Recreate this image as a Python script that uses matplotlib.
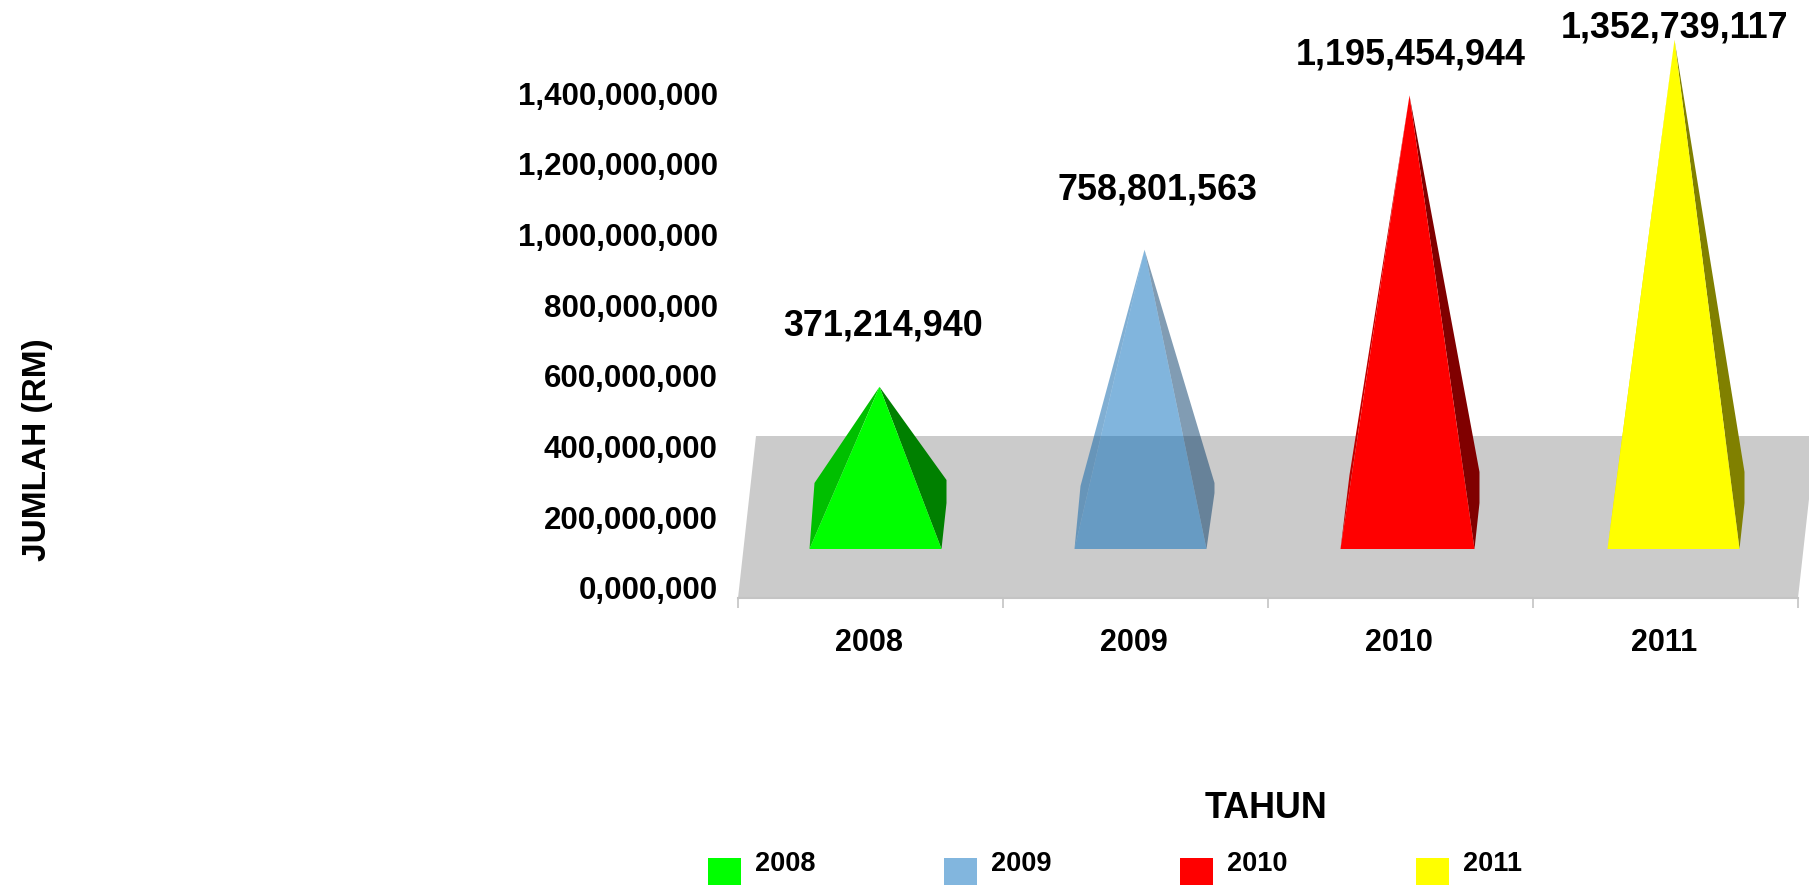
import matplotlib
matplotlib.use("Agg")
import matplotlib.pyplot as plt
from matplotlib.patches import Polygon, Rectangle
from matplotlib.ticker import FuncFormatter

# ---- data ----
years = ["2008", "2009", "2010", "2011"]
values = [371214940, 758801563, 1195454944, 1352739117]
y_ticks = [0, 200000000, 400000000, 600000000, 800000000, 1000000000, 1200000000, 1400000000]
x_title = "TAHUN"
y_title = "JUMLAH (RM)"

# ---- style ----
plt.rcParams["font.family"] = ["Liberation Sans", "DejaVu Sans"]
W, H = 1809, 885
AX_L, AX_R, AX_BOTTOM, ZERO_PX = 738, 1798, 598, 588
PX_PER_VALUE = 70.7 / 200000000
PX_PER_CAT = (AX_R - AX_L) / 4

front = ["#00FF00", "#056DBD", "#FF0000", "#FFFF00"]
left_c = ["#00BF00", "#0560A8", "#BF0000", "#DDDD00"]
right_c = ["#008000", "#053A68", "#800000", "#808000"]
alphas = [1, 0.5, 1, 1]
legend_c = ["#00FF00", "#82B6DE", "#FF0000", "#FFFF00"]
# per-pyramid outline offsets in pixels from the category centre
base_l = [-61, -61, -60, -58]
base_r = [71, 71, 74, 74]
mid_l = [-56, -55, -51, -47]
mid_r = [76, 79, 79, 79]
mid_top = [480, 483, 472, 472]
mid_low = [503, 493, 503, 503]
label_dx = [4, 13, 1, 0]
label_gap = [61, 60, 40, 12]

fig = plt.figure(figsize=(W / 100, H / 100), dpi=100, facecolor="white")
ax = fig.add_axes([AX_L / W, 1 - AX_BOTTOM / H, (AX_R - AX_L) / W, AX_BOTTOM / H])
ax.set_xlim(-0.5, 3.5)
ax.set_ylim(-(AX_BOTTOM - ZERO_PX) / PX_PER_VALUE, ZERO_PX / PX_PER_VALUE)
ax.patch.set_visible(False)


def scr(cat, value, dx, y_px_offset):
    """Category/value position moved by a 3D depth offset given in pixels."""
    return (cat + dx / PX_PER_CAT, value + y_px_offset / PX_PER_VALUE)


# floor plate
plate = [scr(-0.5, 0, 0, -10), scr(-0.5, 0, 18, 152), scr(3.5, 0, 18, 152), scr(3.5, 0, 0, -10)]
ax.add_patch(Polygon(plate, closed=True, fc="#CBCBCB", ec="none", zorder=1, clip_on=False))

BASE_UP = ZERO_PX - 549
APEX_UP = 70
APEX_DX = 9
for i, v in enumerate(values):
    apex = scr(i, v, APEX_DX, APEX_UP)
    bl = scr(i, 0, base_l[i], BASE_UP)
    br = scr(i, 0, base_r[i], BASE_UP)
    ml = scr(i, 0, mid_l[i], ZERO_PX - (mid_top[i] + 3))
    mr1 = scr(i, 0, mid_r[i], ZERO_PX - mid_top[i])
    mr2 = scr(i, 0, mid_r[i], ZERO_PX - mid_low[i])
    a = alphas[i]
    ax.add_patch(Polygon([apex, ml, bl], closed=True, fc=left_c[i], ec="none", alpha=a, zorder=2, clip_on=False))
    ax.add_patch(Polygon([apex, mr1, mr2, br], closed=True, fc=right_c[i], ec="none", alpha=a, zorder=2, clip_on=False))
    ax.add_patch(Polygon([apex, bl, br], closed=True, fc=front[i], ec="none", alpha=a, zorder=3, clip_on=False))
    lx, ly = scr(i, v, APEX_DX + label_dx[i], APEX_UP + label_gap[i])
    ax.text(lx, ly, f"{v:,}", ha="center", va="center", fontsize=25.8, fontweight="bold",
            color="black", zorder=5, clip_on=False)

# axes furniture
for s in ("top", "left", "right"):
    ax.spines[s].set_visible(False)
ax.spines["bottom"].set_color("#C4C4C4")
ax.spines["bottom"].set_linewidth(1.5)
ax.spines["bottom"].set_zorder(4)

ax.set_yticks(y_ticks)
ax.yaxis.set_major_formatter(FuncFormatter(lambda v, _: "0,000,000" if v == 0 else f"{int(v):,}"))
ax.tick_params(axis="y", length=0, pad=14.5, labelsize=22.5, width=0)
for t in ax.get_yticklabels():
    t.set_fontweight("bold")

ax.set_xticks([k - 0.5 for k in range(len(years) + 1)])
ax.set_xticklabels([""] * (len(years) + 1))
ax.set_xticks([k - 0.006 for k in range(len(years))], minor=True)
ax.set_xticklabels(years, minor=True, fontsize=22, fontweight="bold")
ax.tick_params(axis="x", which="major", length=7.5, width=1.2, color="#C4C4C4")
ax.tick_params(axis="x", which="minor", length=0, pad=21.5)

# axis titles
fig.text(38 / W, 1 - 450 / H, y_title, rotation=90, ha="center", va="center",
         fontsize=24, fontweight="bold")
fig.text(1266 / W, 1 - 808 / H, x_title, ha="center", va="center", fontsize=25.8, fontweight="bold")

# legend
swatch_px = [708, 944, 1180, 1416]
for year, colour, sx in zip(years, legend_c, swatch_px):
    fig.add_artist(Rectangle((sx / W, 1 - 892 / H), 33 / W, 34 / H, transform=fig.transFigure,
                             fc=colour, ec="none"))
    fig.text((sx + 47) / W, 1 - 864 / H, year, ha="left", va="center", fontsize=19.5, fontweight="bold")

fig.savefig("out.png", dpi=100, facecolor="white")
